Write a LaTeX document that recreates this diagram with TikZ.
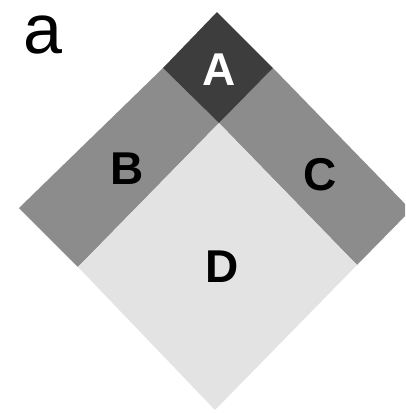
\documentclass[tikz,border=0pt]{standalone}
\usepackage{fontspec}
\setmainfont{Liberation Sans}
\begin{document}
\begin{tikzpicture}[x=1pt,y=-1pt,
  region/.style={draw=none},
  lab/.style={font=\fontsize{46}{46}\selectfont\bfseries, inner sep=0pt, anchor=center},
  panel/.style={font=\fontsize{70}{70}\selectfont, inner sep=0pt, anchor=center}]
\useasboundingbox (0,0) rectangle (405,413);
\clip (0,0) rectangle (405,413);
\definecolor{cA}{gray}{0.24}
\definecolor{cBC}{gray}{0.55}
\definecolor{cD}{gray}{0.89}
\coordinate (T) at (217,12);
\coordinate (AL) at (163,68);
\coordinate (AR) at (273,68);
\coordinate (J) at (219,123);
\coordinate (L) at (19,208);
\coordinate (R) at (411,210);
\coordinate (BL) at (78,267);
\coordinate (CR) at (357,265);
\coordinate (Bot) at (215,410);
\fill[region, cBC] (AL) -- (L) -- (BL) -- (J) -- cycle;
\fill[region, cBC] (AR) -- (R) -- (CR) -- (J) -- cycle;
\fill[region, cD] (J) -- (BL) -- (Bot) -- (CR) -- cycle;
\fill[region, cA] (T) -- (AL) -- (J) -- (AR) -- cycle;
\node[lab, text=white] (A) at (219,70) {A};
\node[lab] (B) at (127,169) {B};
\node[lab] (C) at (320,175) {C};
\node[lab] (D) at (222,267) {D};
\node[panel] (a) at (43,35) {a};
\end{tikzpicture}
\end{document}
